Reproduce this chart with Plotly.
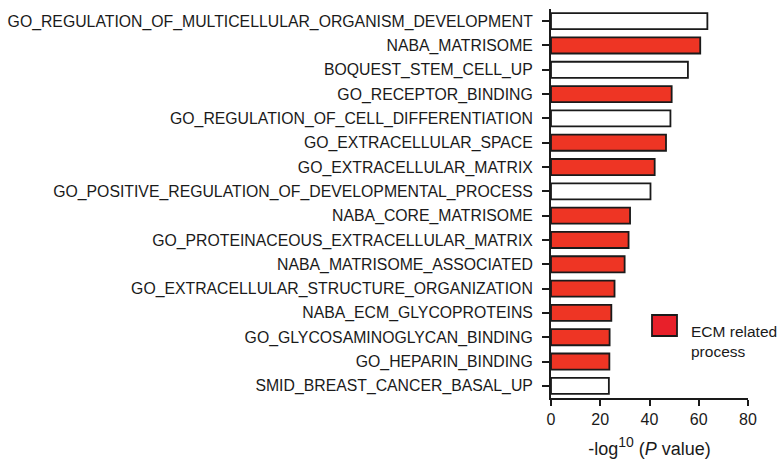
import plotly.graph_objects as go

# Gene set names, top to bottom
categories = [
    "GO_REGULATION_OF_MULTICELLULAR_ORGANISM_DEVELOPMENT",
    "NABA_MATRISOME",
    "BOQUEST_STEM_CELL_UP",
    "GO_RECEPTOR_BINDING",
    "GO_REGULATION_OF_CELL_DIFFERENTIATION",
    "GO_EXTRACELLULAR_SPACE",
    "GO_EXTRACELLULAR_MATRIX",
    "GO_POSITIVE_REGULATION_OF_DEVELOPMENTAL_PROCESS",
    "NABA_CORE_MATRISOME",
    "GO_PROTEINACEOUS_EXTRACELLULAR_MATRIX",
    "NABA_MATRISOME_ASSOCIATED",
    "GO_EXTRACELLULAR_STRUCTURE_ORGANIZATION",
    "NABA_ECM_GLYCOPROTEINS",
    "GO_GLYCOSAMINOGLYCAN_BINDING",
    "GO_HEPARIN_BINDING",
    "SMID_BREAST_CANCER_BASAL_UP",
]
# -log10(P value)
neg_log_p = [63.5, 60.6, 55.6, 49.0, 48.5, 46.7, 42.1, 40.4,
             32.1, 31.5, 29.9, 25.8, 24.5, 23.8, 23.7, 23.5]
# ECM related process flag
ecm_related = [False, True, False, True, False, True, True, False,
               True, True, True, True, True, True, True, False]

x_ticks = [0, 20, 40, 60, 80]

RED = "#EE3524"
fill_colors = [RED if flag else "white" for flag in ecm_related]

font_family = "Liberation Sans, Arial, sans-serif"
INK = "#1a1a1a"

fig = go.Figure(
    go.Bar(
        x=neg_log_p,
        y=categories,
        orientation="h",
        marker=dict(color=fill_colors, line=dict(color=INK, width=1.8)),
        width=0.66,
        showlegend=False,
    )
)

fig.update_yaxes(
    autorange=False,
    range=[len(categories) - 0.5, -0.5],
    categoryorder="array",
    categoryarray=categories,
    showline=True,
    linecolor=INK,
    linewidth=2,
    ticks="outside",
    ticklen=7,
    tickwidth=1.5,
    tickcolor=INK,
    ticklabelstandoff=6,
    tickfont=dict(family=font_family, size=15.8, color=INK),
    showgrid=False,
    zeroline=False,
)

# Axis title: the base size sets the superscript (70 %), the rest is sized by span
title_text = (
    "<span style='font-size:18px'>-log</span><sup>10</sup>"
    "<span style='font-size:18px'> (<i>P</i> value)</span>"
)

fig.update_xaxes(
    range=[0, 80],
    tickvals=x_ticks,
    showline=True,
    linecolor=INK,
    linewidth=2,
    ticks="outside",
    ticklen=6,
    tickwidth=1.5,
    tickcolor=INK,
    tickfont=dict(family=font_family, size=16, color=INK),
    showgrid=False,
    zeroline=False,
    title=dict(
        text=title_text,
        font=dict(family=font_family, size=20, color=INK),
        standoff=14,
    ),
)

# Legend key for ECM related processes
fig.add_shape(
    type="rect", xref="paper", yref="paper",
    x0=(652 - 551) / 197, x1=(677 - 551) / 197,
    y0=(398 - 336) / 389, y1=(398 - 315) / 389,
    fillcolor="#E8202A", line=dict(color=INK, width=1.8),
)
fig.add_annotation(
    xref="paper", yref="paper",
    x=(689 - 551) / 197, y=(398 - 321) / 389,
    xanchor="left", yanchor="top",
    text="ECM related<br>process",
    align="left",
    showarrow=False,
    font=dict(family=font_family, size=15.5, color=INK),
)

fig.update_layout(
    width=780,
    height=464,
    margin=dict(l=551, r=32, t=9, b=66, autoexpand=False),
    plot_bgcolor="white",
    paper_bgcolor="white",
    bargap=0.34,
)

fig.write_html("out.html")
